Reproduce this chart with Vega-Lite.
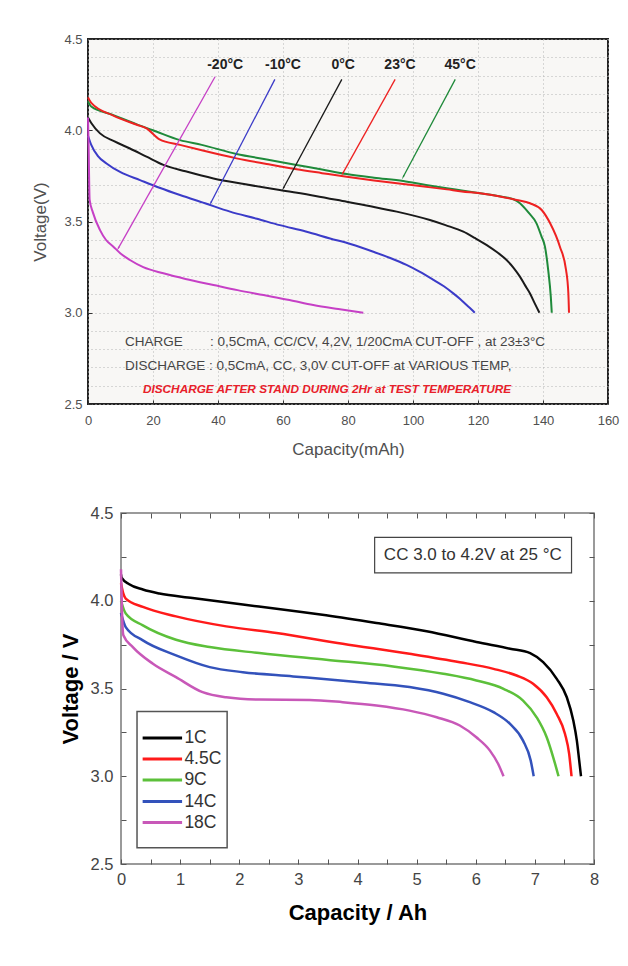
{
  "$schema": "https://vega.github.io/schema/vega-lite/v6.json",
  "background": "white",
  "padding": {"left": 30, "top": 32, "right": 0, "bottom": 0},
  "spacing": 46,
  "config": {"font": "Liberation Sans", "view": {"stroke": null}},
  "resolve": {"scale": {"color": "independent"}},
  "datasets": {
    "top": [
      {"temp":"45°C","i":0,"cap":0,"v":4.16},{"temp":"45°C","i":1,"cap":1,"v":4.13},{"temp":"45°C","i":2,"cap":7.8,"v":4.083},{"temp":"45°C","i":3,"cap":15,"v":4.032},{"temp":"45°C","i":4,"cap":20,"v":4.0},{"temp":"45°C","i":5,"cap":28.3,"v":3.946},{"temp":"45°C","i":6,"cap":35,"v":3.92},{"temp":"45°C","i":7,"cap":45.7,"v":3.87},{"temp":"45°C","i":8,"cap":55,"v":3.84},{"temp":"45°C","i":9,"cap":64.2,"v":3.81},{"temp":"45°C","i":10,"cap":72,"v":3.785},{"temp":"45°C","i":11,"cap":79.6,"v":3.76},{"temp":"45°C","i":12,"cap":88,"v":3.74},{"temp":"45°C","i":13,"cap":97,"v":3.722},{"temp":"45°C","i":14,"cap":104,"v":3.7},{"temp":"45°C","i":15,"cap":110.4,"v":3.682},{"temp":"45°C","i":16,"cap":115,"v":3.67},{"temp":"45°C","i":17,"cap":120.6,"v":3.655},{"temp":"45°C","i":18,"cap":126,"v":3.64},{"temp":"45°C","i":19,"cap":130.9,"v":3.622},{"temp":"45°C","i":20,"cap":132.9,"v":3.6},{"temp":"45°C","i":21,"cap":135.5,"v":3.55},{"temp":"45°C","i":22,"cap":138,"v":3.49},{"temp":"45°C","i":23,"cap":139.5,"v":3.42},{"temp":"45°C","i":24,"cap":140.6,"v":3.362},{"temp":"45°C","i":25,"cap":141.6,"v":3.234},{"temp":"45°C","i":26,"cap":142.4,"v":3.088},{"temp":"45°C","i":27,"cap":142.7,"v":3.0},
      {"temp":"23°C","i":0,"cap":0,"v":4.18},{"temp":"23°C","i":1,"cap":1,"v":4.15},{"temp":"23°C","i":2,"cap":7.8,"v":4.08},{"temp":"23°C","i":3,"cap":15,"v":4.03},{"temp":"23°C","i":4,"cap":18,"v":4.01},{"temp":"23°C","i":5,"cap":22,"v":3.95},{"temp":"23°C","i":6,"cap":28.3,"v":3.92},{"temp":"23°C","i":7,"cap":35,"v":3.89},{"temp":"23°C","i":8,"cap":45.7,"v":3.846},{"temp":"23°C","i":9,"cap":55,"v":3.815},{"temp":"23°C","i":10,"cap":64.2,"v":3.786},{"temp":"23°C","i":11,"cap":72,"v":3.765},{"temp":"23°C","i":12,"cap":79.6,"v":3.745},{"temp":"23°C","i":13,"cap":88,"v":3.725},{"temp":"23°C","i":14,"cap":97,"v":3.705},{"temp":"23°C","i":15,"cap":104,"v":3.69},{"temp":"23°C","i":16,"cap":110.4,"v":3.676},{"temp":"23°C","i":17,"cap":115,"v":3.665},{"temp":"23°C","i":18,"cap":120.6,"v":3.655},{"temp":"23°C","i":19,"cap":126,"v":3.64},{"temp":"23°C","i":20,"cap":131.9,"v":3.618},{"temp":"23°C","i":21,"cap":136,"v":3.6},{"temp":"23°C","i":22,"cap":139.6,"v":3.563},{"temp":"23°C","i":23,"cap":142.2,"v":3.49},{"temp":"23°C","i":24,"cap":145.2,"v":3.362},{"temp":"23°C","i":25,"cap":147.1,"v":3.234},{"temp":"23°C","i":26,"cap":147.8,"v":3.106},{"temp":"23°C","i":27,"cap":148,"v":3.0},
      {"temp":"0°C","i":0,"cap":0,"v":4.07},{"temp":"0°C","i":1,"cap":1,"v":4.04},{"temp":"0°C","i":2,"cap":3.7,"v":3.983},{"temp":"0°C","i":3,"cap":8,"v":3.94},{"temp":"0°C","i":4,"cap":12.9,"v":3.9},{"temp":"0°C","i":5,"cap":18,"v":3.855},{"temp":"0°C","i":6,"cap":23.2,"v":3.81},{"temp":"0°C","i":7,"cap":30,"v":3.775},{"temp":"0°C","i":8,"cap":38.6,"v":3.736},{"temp":"0°C","i":9,"cap":48,"v":3.705},{"temp":"0°C","i":10,"cap":59,"v":3.672},{"temp":"0°C","i":11,"cap":70,"v":3.64},{"temp":"0°C","i":12,"cap":79.6,"v":3.608},{"temp":"0°C","i":13,"cap":88,"v":3.58},{"temp":"0°C","i":14,"cap":95,"v":3.554},{"temp":"0°C","i":15,"cap":105.2,"v":3.508},{"temp":"0°C","i":16,"cap":110,"v":3.48},{"temp":"0°C","i":17,"cap":115.5,"v":3.444},{"temp":"0°C","i":18,"cap":119,"v":3.41},{"temp":"0°C","i":19,"cap":122.7,"v":3.371},{"temp":"0°C","i":20,"cap":126,"v":3.33},{"temp":"0°C","i":21,"cap":128.8,"v":3.289},{"temp":"0°C","i":22,"cap":131,"v":3.245},{"temp":"0°C","i":23,"cap":132.9,"v":3.198},{"temp":"0°C","i":24,"cap":134.5,"v":3.15},{"temp":"0°C","i":25,"cap":136,"v":3.106},{"temp":"0°C","i":26,"cap":137.5,"v":3.05},{"temp":"0°C","i":27,"cap":138.9,"v":3.0},
      {"temp":"-10°C","i":0,"cap":0,"v":3.97},{"temp":"-10°C","i":1,"cap":1,"v":3.92},{"temp":"-10°C","i":2,"cap":3,"v":3.86},{"temp":"-10°C","i":3,"cap":5.7,"v":3.818},{"temp":"-10°C","i":4,"cap":10,"v":3.77},{"temp":"-10°C","i":5,"cap":16,"v":3.727},{"temp":"-10°C","i":6,"cap":22,"v":3.685},{"temp":"-10°C","i":7,"cap":28.3,"v":3.645},{"temp":"-10°C","i":8,"cap":36,"v":3.6},{"temp":"-10°C","i":9,"cap":43.7,"v":3.554},{"temp":"-10°C","i":10,"cap":52,"v":3.515},{"temp":"-10°C","i":11,"cap":59,"v":3.48},{"temp":"-10°C","i":12,"cap":67,"v":3.445},{"temp":"-10°C","i":13,"cap":74.5,"v":3.407},{"temp":"-10°C","i":14,"cap":81,"v":3.375},{"temp":"-10°C","i":15,"cap":87.8,"v":3.334},{"temp":"-10°C","i":16,"cap":93,"v":3.3},{"temp":"-10°C","i":17,"cap":98,"v":3.262},{"temp":"-10°C","i":18,"cap":102,"v":3.225},{"temp":"-10°C","i":19,"cap":106.3,"v":3.18},{"temp":"-10°C","i":20,"cap":109.5,"v":3.145},{"temp":"-10°C","i":21,"cap":112.4,"v":3.106},{"temp":"-10°C","i":22,"cap":114.5,"v":3.075},{"temp":"-10°C","i":23,"cap":116.5,"v":3.042},{"temp":"-10°C","i":24,"cap":118,"v":3.018},{"temp":"-10°C","i":25,"cap":119,"v":3.0},
      {"temp":"-20°C","i":0,"cap":0,"v":4.07},{"temp":"-20°C","i":1,"cap":0.2,"v":3.9},{"temp":"-20°C","i":2,"cap":0.5,"v":3.62},{"temp":"-20°C","i":3,"cap":1.5,"v":3.55},{"temp":"-20°C","i":4,"cap":3.7,"v":3.453},{"temp":"-20°C","i":5,"cap":5.5,"v":3.4},{"temp":"-20°C","i":6,"cap":7.8,"v":3.362},{"temp":"-20°C","i":7,"cap":10,"v":3.325},{"temp":"-20°C","i":8,"cap":12.9,"v":3.289},{"temp":"-20°C","i":9,"cap":17,"v":3.25},{"temp":"-20°C","i":10,"cap":23.2,"v":3.216},{"temp":"-20°C","i":11,"cap":30,"v":3.185},{"temp":"-20°C","i":12,"cap":38.6,"v":3.152},{"temp":"-20°C","i":13,"cap":46,"v":3.124},{"temp":"-20°C","i":14,"cap":54,"v":3.097},{"temp":"-20°C","i":15,"cap":62,"v":3.07},{"temp":"-20°C","i":16,"cap":69.3,"v":3.042},{"temp":"-20°C","i":17,"cap":77,"v":3.02},{"temp":"-20°C","i":18,"cap":84.7,"v":3.0}
    ],
    "topArrows": [
      {"temp":"-20°C","x1":39.1,"y1":4.293,"x2":9.3,"y2":3.353,"ang":209},
      {"temp":"-10°C","x1":57.5,"y1":4.279,"x2":37.8,"y2":3.603,"ang":207},
      {"temp":"0°C","x1":78.1,"y1":4.279,"x2":60.1,"y2":3.682,"ang":208},
      {"temp":"23°C","x1":94.5,"y1":4.279,"x2":78.4,"y2":3.764,"ang":209},
      {"temp":"45°C","x1":113.0,"y1":4.279,"x2":97.0,"y2":3.745,"ang":208}
    ],
    "topLabels": [
      {"temp":"-20°C","x":42.2,"y":4.355},
      {"temp":"-10°C","x":60.0,"y":4.355},
      {"temp":"0°C","x":78.5,"y":4.355},
      {"temp":"23°C","x":96.0,"y":4.355},
      {"temp":"45°C","x":114.5,"y":4.355}
    ],
    "topNotes": [
      {"x":11.4,"y":2.84,"t":"CHARGE"},
      {"x":37.5,"y":2.84,"t":": 0,5CmA, CC/CV, 4,2V, 1/20CmA CUT-OFF , at 23±3°C"},
      {"x":11.4,"y":2.708,"t":"DISCHARGE : 0,5CmA, CC, 3,0V CUT-OFF at VARIOUS TEMP,"}
    ],
    "topRed": [
      {"x":16.9,"y":2.582,"t":"DISCHARGE AFTER STAND DURING 2Hr at TEST TEMPERATURE"}
    ],
    "bottom": [
      {"rate":"1C","i":0,"cap":0,"v":4.15},{"rate":"1C","i":1,"cap":0.01,"v":4.132},{"rate":"1C","i":2,"cap":0.14,"v":4.094},{"rate":"1C","i":3,"cap":0.37,"v":4.064},{"rate":"1C","i":4,"cap":0.65,"v":4.041},{"rate":"1C","i":5,"cap":1.21,"v":4.016},{"rate":"1C","i":6,"cap":2.06,"v":3.978},{"rate":"1C","i":7,"cap":2.63,"v":3.955},{"rate":"1C","i":8,"cap":3.47,"v":3.917},{"rate":"1C","i":9,"cap":4.32,"v":3.873},{"rate":"1C","i":10,"cap":5.17,"v":3.826},{"rate":"1C","i":11,"cap":6.01,"v":3.765},{"rate":"1C","i":12,"cap":6.58,"v":3.727},{"rate":"1C","i":13,"cap":6.92,"v":3.702},{"rate":"1C","i":14,"cap":7.14,"v":3.65},{"rate":"1C","i":15,"cap":7.37,"v":3.555},{"rate":"1C","i":16,"cap":7.54,"v":3.45},{"rate":"1C","i":17,"cap":7.65,"v":3.317},{"rate":"1C","i":18,"cap":7.71,"v":3.203},{"rate":"1C","i":19,"cap":7.75,"v":3.089},{"rate":"1C","i":20,"cap":7.78,"v":3.0},
      {"rate":"4.5C","i":0,"cap":0,"v":4.1},{"rate":"4.5C","i":1,"cap":0.04,"v":4.04},{"rate":"4.5C","i":2,"cap":0.08,"v":4.012},{"rate":"4.5C","i":3,"cap":0.37,"v":3.965},{"rate":"4.5C","i":4,"cap":0.93,"v":3.911},{"rate":"4.5C","i":5,"cap":1.78,"v":3.854},{"rate":"4.5C","i":6,"cap":2.63,"v":3.816},{"rate":"4.5C","i":7,"cap":3.75,"v":3.755},{"rate":"4.5C","i":8,"cap":4.88,"v":3.698},{"rate":"4.5C","i":9,"cap":5.73,"v":3.65},{"rate":"4.5C","i":10,"cap":6.3,"v":3.612},{"rate":"4.5C","i":11,"cap":6.69,"v":3.574},{"rate":"4.5C","i":12,"cap":6.97,"v":3.527},{"rate":"4.5C","i":13,"cap":7.2,"v":3.45},{"rate":"4.5C","i":14,"cap":7.37,"v":3.355},{"rate":"4.5C","i":15,"cap":7.51,"v":3.241},{"rate":"4.5C","i":16,"cap":7.58,"v":3.127},{"rate":"4.5C","i":17,"cap":7.62,"v":3.0},
      {"rate":"9C","i":0,"cap":0,"v":4.0},{"rate":"9C","i":1,"cap":0.08,"v":3.927},{"rate":"9C","i":2,"cap":0.37,"v":3.86},{"rate":"9C","i":3,"cap":0.93,"v":3.778},{"rate":"9C","i":4,"cap":1.5,"v":3.736},{"rate":"9C","i":5,"cap":2.34,"v":3.702},{"rate":"9C","i":6,"cap":3.47,"v":3.664},{"rate":"9C","i":7,"cap":4.6,"v":3.626},{"rate":"9C","i":8,"cap":5.45,"v":3.584},{"rate":"9C","i":9,"cap":6.01,"v":3.546},{"rate":"9C","i":10,"cap":6.47,"v":3.498},{"rate":"9C","i":11,"cap":6.8,"v":3.431},{"rate":"9C","i":12,"cap":7.03,"v":3.336},{"rate":"9C","i":13,"cap":7.2,"v":3.222},{"rate":"9C","i":14,"cap":7.31,"v":3.108},{"rate":"9C","i":15,"cap":7.4,"v":3.0},
      {"rate":"14C","i":0,"cap":0,"v":3.93},{"rate":"14C","i":1,"cap":0.08,"v":3.85},{"rate":"14C","i":2,"cap":0.37,"v":3.774},{"rate":"14C","i":3,"cap":0.93,"v":3.689},{"rate":"14C","i":4,"cap":1.5,"v":3.622},{"rate":"14C","i":5,"cap":2.06,"v":3.593},{"rate":"14C","i":6,"cap":2.91,"v":3.569},{"rate":"14C","i":7,"cap":4.04,"v":3.536},{"rate":"14C","i":8,"cap":4.88,"v":3.508},{"rate":"14C","i":9,"cap":5.45,"v":3.47},{"rate":"14C","i":10,"cap":5.9,"v":3.422},{"rate":"14C","i":11,"cap":6.3,"v":3.365},{"rate":"14C","i":12,"cap":6.58,"v":3.298},{"rate":"14C","i":13,"cap":6.8,"v":3.203},{"rate":"14C","i":14,"cap":6.93,"v":3.089},{"rate":"14C","i":15,"cap":6.98,"v":3.0},
      {"rate":"18C","i":0,"cap":0,"v":4.18},{"rate":"18C","i":1,"cap":0.02,"v":3.9},{"rate":"18C","i":2,"cap":0.04,"v":3.803},{"rate":"18C","i":3,"cap":0.2,"v":3.736},{"rate":"18C","i":4,"cap":0.54,"v":3.641},{"rate":"18C","i":5,"cap":0.93,"v":3.565},{"rate":"18C","i":6,"cap":1.38,"v":3.479},{"rate":"18C","i":7,"cap":1.78,"v":3.45},{"rate":"18C","i":8,"cap":2.34,"v":3.437},{"rate":"18C","i":9,"cap":3.19,"v":3.435},{"rate":"18C","i":10,"cap":3.75,"v":3.422},{"rate":"18C","i":11,"cap":4.32,"v":3.403},{"rate":"18C","i":12,"cap":4.88,"v":3.374},{"rate":"18C","i":13,"cap":5.34,"v":3.336},{"rate":"18C","i":14,"cap":5.73,"v":3.289},{"rate":"18C","i":15,"cap":6.01,"v":3.222},{"rate":"18C","i":16,"cap":6.24,"v":3.146},{"rate":"18C","i":17,"cap":6.38,"v":3.07},{"rate":"18C","i":18,"cap":6.47,"v":3.0}
    ],
    "bottomLegend": [
      {"rate":"1C","x1":0.366,"x2":1.033,"tx":1.072,"y":3.218},
      {"rate":"4.5C","x1":0.366,"x2":1.033,"tx":1.072,"y":3.098},
      {"rate":"9C","x1":0.366,"x2":1.033,"tx":1.072,"y":2.978},
      {"rate":"14C","x1":0.366,"x2":1.033,"tx":1.072,"y":2.856},
      {"rate":"18C","x1":0.366,"x2":1.033,"tx":1.072,"y":2.736}
    ],
    "bottomLegendBox": [{"x1":0.271,"x2":1.795,"y1":3.369,"y2":2.593}],
    "bottomNote": [{"x1":4.29,"x2":7.62,"y1":4.361,"y2":4.159,"tx":5.95,"ty":4.26,"t":"CC 3.0 to 4.2V at 25 °C"}]
  },
  "vconcat": [
    {
      "width": 520,
      "height": 365,
      "view": {"stroke": "#222222", "strokeWidth": 2, "fill": "#f8f7f5"},
      "layer": [
        {
          "data": {"name": "top"},
          "mark": {"type": "line", "strokeWidth": 2, "interpolate": "monotone"},
          "encoding": {
            "x": {"field": "cap", "type": "quantitative", "scale": {"domain": [0, 160], "nice": false},
              "axis": {"values": [0,20,40,60,80,100,120,140,160], "title": "Capacity(mAh)", "titleFontSize": 17, "titleFontWeight": "normal", "titleColor": "#505050", "titlePadding": 14,
                "labelFontSize": 13, "labelColor": "#505050", "labelPadding": 14, "labelFlush": false, "labelOverlap": false,
                "ticks": true, "tickSize": -4, "tickColor": "#333333", "domain": false,
                "grid": true, "gridColor": "#b5b5b5", "gridDash": [1, 3], "gridWidth": 1}},
            "y": {"field": "v", "type": "quantitative", "scale": {"domain": [2.5, 4.5], "zero": false, "nice": false},
              "axis": {"values": [2.5, 3.0, 3.5, 4.0, 4.5], "format": ".1f",
                "title": "Voltage(V)", "titleFontSize": 17, "titleFontWeight": "normal", "titleColor": "#505050", "titlePadding": 14,
                "labelFontSize": 13, "labelColor": "#505050", "labelPadding": 10, "labelOverlap": false,
                "ticks": true, "tickSize": -4, "tickColor": "#333333", "domain": false, "grid": false}},
            "color": {"field": "temp", "type": "nominal", "scale": {"domain": ["-20°C","-10°C","0°C","23°C","45°C"], "range": ["#c640c6","#3b3bc8","#1a1a1a","#ee2222","#1f8a3a"]}, "legend": null},
            "order": {"field": "i", "type": "quantitative"}
          }
        },
        {
          "data": {"name": "topArrows"},
          "mark": {"type": "rule", "strokeWidth": 1.3},
          "encoding": {
            "x": {"field": "x1", "type": "quantitative"},
            "y": {"field": "y1", "type": "quantitative", "axis": null},
            "x2": {"field": "x2"},
            "y2": {"field": "y2"},
            "color": {"field": "temp", "type": "nominal", "legend": null}
          }
        },
        {
          "data": {"name": "topArrows"},
          "mark": {"type": "point", "shape": "wedge", "filled": true, "size": 35, "opacity": 1},
          "encoding": {
            "x": {"field": "x2", "type": "quantitative"},
            "y": {"field": "y2", "type": "quantitative", "axis": null},
            "angle": {"field": "ang", "type": "quantitative", "scale": null},
            "color": {"field": "temp", "type": "nominal", "legend": null}
          }
        },
        {
          "data": {"name": "topLabels"},
          "mark": {"type": "text", "fontSize": 14, "fontWeight": "bold", "color": "#222222", "baseline": "middle", "align": "center"},
          "encoding": {
            "x": {"field": "x", "type": "quantitative"},
            "y": {"field": "y", "type": "quantitative",
              "axis": {"orient": "right", "values": [2.5,2.6,2.7,2.8,2.9,3.0,3.1,3.2,3.3,3.4,3.5,3.6,3.7,3.8,3.9,4.0,4.1,4.2,4.3,4.4,4.5],
                "labels": false, "ticks": false, "title": null, "domain": false,
                "grid": true, "gridColor": "#b5b5b5", "gridDash": [1, 3], "gridWidth": 1}},
            "text": {"field": "temp"}
          }
        },
        {
          "data": {"name": "topNotes"},
          "mark": {"type": "text", "fontSize": 13.5, "color": "#454545", "baseline": "middle", "align": "left"},
          "encoding": {
            "x": {"field": "x", "type": "quantitative"},
            "y": {"field": "y", "type": "quantitative", "axis": null},
            "text": {"field": "t"}
          }
        },
        {
          "data": {"name": "topRed"},
          "mark": {"type": "text", "fontSize": 11.8, "fontWeight": "bold", "fontStyle": "italic", "color": "#e8202a", "baseline": "middle", "align": "left"},
          "encoding": {
            "x": {"field": "x", "type": "quantitative"},
            "y": {"field": "y", "type": "quantitative", "axis": null},
            "text": {"field": "t"}
          }
        }
      ],
      "resolve": {"axis": {"y": "independent"}}
    },
    {
      "spacing": 0,
      "bounds": "flush",
      "resolve": {"scale": {"color": "independent"}},
      "hconcat": [
        {
          "width": 33,
          "height": 351,
          "data": {"values": [{"a": 1}]},
          "mark": {"type": "point", "opacity": 0},
          "encoding": {}
        },
        {
          "width": 473,
          "height": 351,
          "view": {"stroke": "#7a7a7a", "strokeWidth": 1.5, "fill": "white"},
          "layer": [
            {
              "data": {"name": "bottom"},
              "mark": {"type": "line", "strokeWidth": 2.5, "interpolate": "monotone"},
              "encoding": {
                "x": {"field": "cap", "type": "quantitative", "scale": {"domain": [0, 8], "nice": false},
                  "axis": {"values": [0,0.5,1,1.5,2,2.5,3,3.5,4,4.5,5,5.5,6,6.5,7,7.5,8],
                    "labelExpr": "datum.value % 1 === 0 ? format(datum.value, 'd') : ''",
                    "title": "Capacity / Ah", "titleFontSize": 22, "titleFontWeight": "bold", "titleColor": "#000000", "titlePadding": 15,
                    "labelFontSize": 16.5, "labelColor": "#444444", "labelPadding": 12, "labelFlush": false, "labelOverlap": false,
                    "ticks": true, "tickSize": -5, "tickColor": "#555555", "domain": false, "grid": false}},
                "y": {"field": "v", "type": "quantitative", "scale": {"domain": [2.5, 4.5], "zero": false, "nice": false},
                  "axis": {"values": [2.5,2.75,3,3.25,3.5,3.75,4,4.25,4.5],
                    "labelExpr": "abs(datum.value*2 - round(datum.value*2)) < 0.001 ? format(datum.value, '.1f') : ''",
                    "title": "Voltage / V", "titleFontSize": 22, "titleFontWeight": "bold", "titleColor": "#000000", "titlePadding": 8,
                    "labelFontSize": 16.5, "labelColor": "#444444", "labelPadding": 13, "labelOverlap": false,
                    "ticks": true, "tickSize": -5, "tickColor": "#555555", "domain": false, "grid": false}},
                "color": {"field": "rate", "type": "nominal", "scale": {"domain": ["1C","4.5C","9C","14C","18C"], "range": ["#000000","#ff1a1a","#5cc03a","#3352bb","#c858b8"]}, "legend": null},
                "order": {"field": "i", "type": "quantitative"}
              }
            },
            {
              "data": {"name": "bottomNote"},
              "mark": {"type": "rect", "fill": "white", "stroke": "#444444", "strokeWidth": 1.2},
              "encoding": {
                "x": {"field": "x1", "type": "quantitative", "axis": null},
                "x2": {"field": "x2"},
                "y": {"field": "y1", "type": "quantitative", "axis": null},
                "y2": {"field": "y2"}
              }
            },
            {
              "data": {"name": "bottomNote"},
              "mark": {"type": "text", "fontSize": 17, "color": "#333333", "baseline": "middle", "align": "center"},
              "encoding": {
                "x": {"field": "tx", "type": "quantitative", "axis": null},
                "y": {"field": "ty", "type": "quantitative", "axis": null},
                "text": {"field": "t"}
              }
            },
            {
              "data": {"name": "bottomLegendBox"},
              "mark": {"type": "rect", "fill": "white", "stroke": "#555555", "strokeWidth": 1.5},
              "encoding": {
                "x": {"field": "x1", "type": "quantitative", "axis": null},
                "x2": {"field": "x2"},
                "y": {"field": "y1", "type": "quantitative", "axis": null},
                "y2": {"field": "y2"}
              }
            },
            {
              "data": {"name": "bottomLegend"},
              "mark": {"type": "rule", "strokeWidth": 3},
              "encoding": {
                "x": {"field": "x1", "type": "quantitative",
                  "axis": {"orient": "top", "values": [0,0.5,1,1.5,2,2.5,3,3.5,4,4.5,5,5.5,6,6.5,7,7.5,8], "labels": false, "title": null, "ticks": true, "tickSize": -5, "tickColor": "#555555", "domain": false, "grid": false}},
                "x2": {"field": "x2"},
                "y": {"field": "y", "type": "quantitative",
                  "axis": {"orient": "right", "values": [2.5,2.75,3,3.25,3.5,3.75,4,4.25,4.5], "labels": false, "title": null, "ticks": true, "tickSize": -5, "tickColor": "#555555", "domain": false, "grid": false}},
                "color": {"field": "rate", "type": "nominal", "legend": null}
              }
            },
            {
              "data": {"name": "bottomLegend"},
              "mark": {"type": "text", "fontSize": 17.5, "color": "#333333", "baseline": "middle", "align": "left"},
              "encoding": {
                "x": {"field": "tx", "type": "quantitative", "axis": null},
                "y": {"field": "y", "type": "quantitative", "axis": null},
                "text": {"field": "rate"}
              }
            }
          ],
          "resolve": {"axis": {"x": "independent", "y": "independent"}}
        }
      ]
    }
  ]
}
